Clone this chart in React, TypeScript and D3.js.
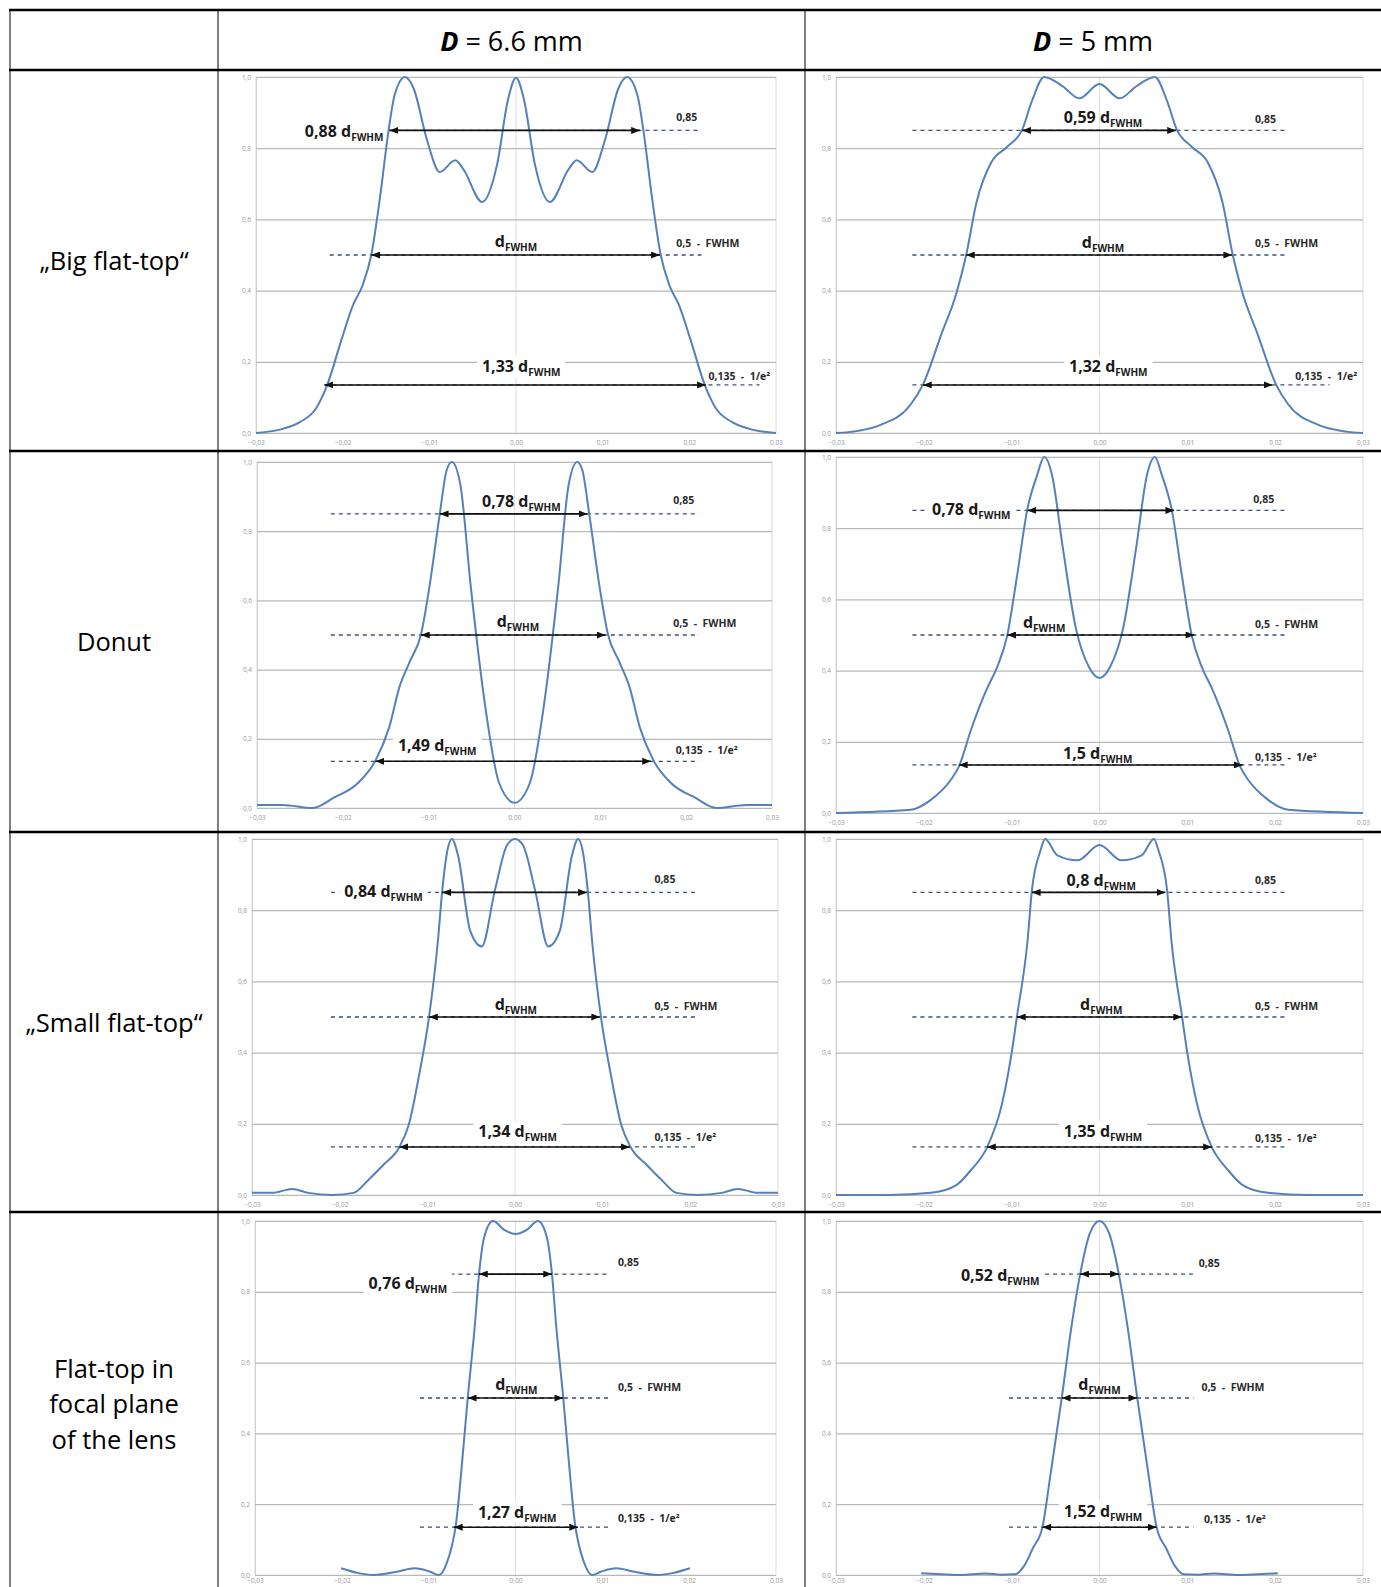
import React, { useEffect, useRef } from "react";
import * as d3 from "d3";

const W = 1381;
const H = 1587;

const headers = ["6.6 mm", "5 mm"];
const rowLabels = [["„Big flat-top“"], ["Donut"], ["„Small flat-top“"], ["Flat-top in", "focal plane", "of the lens"]];
const yTicks = [0, 0.2, 0.4, 0.6, 0.8, 1.0];
const xTicks = [-0.03, -0.02, -0.01, 0, 0.01, 0.02, 0.03];
const levels = [0.85, 0.5, 0.135];
const levelNames = ["0,85", "0,5\u00a0\u00a0-\u00a0\u00a0FWHM", "0,135\u00a0\u00a0-\u00a0\u00a01/e²"];

// intensity profiles: [x (m), relative intensity]
const bigFlat66 = [
  [-0.03, 0], [-0.0275, 0.008], [-0.0249, 0.031], [-0.0231, 0.068], [-0.0218, 0.134], [-0.0201, 0.265],
  [-0.0188, 0.36], [-0.0177, 0.415], [-0.0167, 0.5], [-0.0157, 0.66], [-0.0147, 0.85], [-0.014, 0.95],
  [-0.0128, 1.0], [-0.0118, 0.967], [-0.0103, 0.826], [-0.0088, 0.733], [-0.007, 0.766], [-0.0061, 0.742],
  [-0.0039, 0.649], [-0.0022, 0.752], [-0.0009, 0.939], [0, 0.998], [0.0009, 0.939], [0.0022, 0.752],
  [0.0039, 0.649], [0.0061, 0.742], [0.007, 0.766], [0.0088, 0.733], [0.0103, 0.826], [0.0118, 0.967],
  [0.0128, 1.0], [0.014, 0.95], [0.0147, 0.85], [0.0157, 0.66], [0.0167, 0.5], [0.0177, 0.415],
  [0.0188, 0.36], [0.0201, 0.265], [0.0218, 0.134], [0.0231, 0.068], [0.0249, 0.031], [0.0275, 0.008], [0.03, 0],
];
const bigFlat5 = [
  [-0.03, 0], [-0.0275, 0.006], [-0.0249, 0.023], [-0.0215, 0.08], [-0.0201, 0.136], [-0.018, 0.278],
  [-0.0163, 0.392], [-0.0152, 0.497], [-0.014, 0.648], [-0.0123, 0.761], [-0.0105, 0.804], [-0.0088, 0.852],
  [-0.0077, 0.932], [-0.0063, 1.0], [-0.0042, 0.974], [-0.0023, 0.94], [0, 0.98], [0.0023, 0.94],
  [0.0042, 0.974], [0.0063, 1.0], [0.0077, 0.932], [0.0088, 0.852], [0.0105, 0.804], [0.0123, 0.761],
  [0.014, 0.648], [0.0152, 0.497], [0.0163, 0.392], [0.018, 0.278], [0.0201, 0.136], [0.0215, 0.08],
  [0.0249, 0.023], [0.0275, 0.006], [0.03, 0],
];
const donut66 = [
  [-0.03, 0.009], [-0.027, 0.009], [-0.0235, 0], [-0.0211, 0.029], [-0.0182, 0.073], [-0.0162, 0.137],
  [-0.0146, 0.233], [-0.0134, 0.35], [-0.0122, 0.423], [-0.0109, 0.501], [-0.0099, 0.641], [-0.0087, 0.851],
  [-0.0079, 0.977], [-0.0073, 1.0], [-0.0063, 0.933], [-0.0051, 0.641], [-0.0034, 0.292], [-0.0018, 0.073],
  [0, 0.015], [0.0018, 0.073], [0.0034, 0.292], [0.0051, 0.641], [0.0063, 0.933], [0.0073, 1.0],
  [0.0079, 0.977], [0.0087, 0.851], [0.0099, 0.641], [0.0109, 0.501], [0.0122, 0.423], [0.0134, 0.35],
  [0.0146, 0.233], [0.0162, 0.137], [0.0182, 0.073], [0.0211, 0.029], [0.0235, 0], [0.027, 0.009], [0.03, 0.009],
];
const donut5 = [
  [-0.03, 0], [-0.0215, 0.009], [-0.0192, 0.037], [-0.0169, 0.094], [-0.016, 0.131], [-0.0146, 0.236],
  [-0.0128, 0.35], [-0.0117, 0.407], [-0.0105, 0.499], [-0.0094, 0.664], [-0.0082, 0.855], [-0.0071, 0.949],
  [-0.0063, 1.0], [-0.0054, 0.949], [-0.0042, 0.749], [-0.0027, 0.52], [-0.0012, 0.41], [0, 0.379],
  [0.0012, 0.41], [0.0027, 0.52], [0.0042, 0.749], [0.0054, 0.949], [0.0063, 1.0], [0.0071, 0.949],
  [0.0082, 0.855], [0.0094, 0.664], [0.0105, 0.499], [0.0117, 0.407], [0.0128, 0.35], [0.0146, 0.236],
  [0.016, 0.131], [0.0169, 0.094], [0.0192, 0.037], [0.0215, 0.009], [0.03, 0],
];
const smallFlat66 = [
  [-0.03, 0.006], [-0.0277, 0.006], [-0.0254, 0.017], [-0.0236, 0.006], [-0.0208, 0], [-0.0184, 0.006],
  [-0.0167, 0.043], [-0.015, 0.085], [-0.0132, 0.134], [-0.0121, 0.199], [-0.0109, 0.342], [-0.0098, 0.501],
  [-0.0088, 0.712], [-0.0083, 0.855], [-0.0077, 0.969], [-0.0072, 1.0], [-0.0065, 0.954], [-0.0051, 0.741],
  [-0.0038, 0.698], [-0.0023, 0.855], [-0.0009, 0.983], [0, 1.0], [0.0009, 0.983], [0.0023, 0.855],
  [0.0038, 0.698], [0.0051, 0.741], [0.0065, 0.954], [0.0072, 1.0], [0.0077, 0.969], [0.0083, 0.855],
  [0.0088, 0.712], [0.0098, 0.501], [0.0109, 0.342], [0.0121, 0.199], [0.0132, 0.134], [0.015, 0.085],
  [0.0167, 0.043], [0.0184, 0.006], [0.0208, 0], [0.0236, 0.006], [0.0254, 0.017], [0.0277, 0.006], [0.03, 0.006],
];
const smallFlat5 = [
  [-0.03, 0], [-0.0238, 0], [-0.0192, 0.006], [-0.0163, 0.028], [-0.0146, 0.071], [-0.0128, 0.134],
  [-0.0111, 0.256], [-0.01, 0.399], [-0.0094, 0.501], [-0.0082, 0.712], [-0.0077, 0.855], [-0.0067, 0.969],
  [-0.0062, 1.0], [-0.0048, 0.954], [-0.0025, 0.94], [0, 0.983], [0.0025, 0.94], [0.0048, 0.954],
  [0.0062, 1.0], [0.0067, 0.969], [0.0077, 0.855], [0.0082, 0.712], [0.0094, 0.501], [0.01, 0.399],
  [0.0111, 0.256], [0.0128, 0.134], [0.0146, 0.071], [0.0163, 0.028], [0.0192, 0.006], [0.0238, 0], [0.03, 0],
];
const focal66 = [
  [-0.0201, 0.019], [-0.0182, 0.006], [-0.0163, 0], [-0.0137, 0.009], [-0.0116, 0.019], [-0.0099, 0.01],
  [-0.0088, 0], [-0.0079, 0.035], [-0.0073, 0.085], [-0.0069, 0.136], [-0.006, 0.36], [-0.0055, 0.5],
  [-0.0047, 0.7], [-0.0042, 0.85], [-0.0036, 0.955], [-0.0026, 1.0], [-0.0013, 0.975], [0, 0.963],
  [0.0013, 0.975], [0.0026, 1.0], [0.0036, 0.955], [0.0042, 0.85], [0.0047, 0.7], [0.0055, 0.5],
  [0.006, 0.36], [0.0069, 0.136], [0.0073, 0.085], [0.0079, 0.035], [0.0088, 0], [0.0099, 0.01],
  [0.0116, 0.019], [0.0137, 0.009], [0.0163, 0], [0.0182, 0.006], [0.0201, 0.019],
];
const focal5 = [
  [-0.0203, 0.005], [-0.018, 0.002], [-0.0158, 0], [-0.013, 0.004], [-0.0112, 0.001], [-0.0096, 0.002],
  [-0.0086, 0.025], [-0.0076, 0.075], [-0.0065, 0.135], [-0.0056, 0.28], [-0.0043, 0.5], [-0.0032, 0.7],
  [-0.0022, 0.85], [-0.0011, 0.965], [0, 1.0], [0.0011, 0.965], [0.0022, 0.85], [0.0032, 0.7],
  [0.0043, 0.5], [0.0056, 0.28], [0.0065, 0.135], [0.0076, 0.075], [0.0086, 0.025], [0.0096, 0.002],
  [0.0112, 0.001], [0.013, 0.004], [0.0158, 0], [0.018, 0.002], [0.0203, 0.005],
];

// arrow ends at the 0.85 / 0.5 / 0.135 levels
const arrowsBigFlat66 = [[-0.0146, 0.0143], [-0.0167, 0.0166], [-0.0221, 0.0219]];
const arrowsBigFlat5 = [[-0.0088, 0.0087], [-0.0152, 0.0151], [-0.0201, 0.0197]];
const arrowsDonut66 = [[-0.0087, 0.0085], [-0.0109, 0.0106], [-0.0162, 0.0159]];
const arrowsDonut5 = [[-0.0082, 0.0085], [-0.0105, 0.0108], [-0.016, 0.0163]];
const arrowsSmallFlat66 = [[-0.0083, 0.0082], [-0.0098, 0.0097], [-0.0132, 0.0131]];
const arrowsSmallFlat5 = [[-0.0077, 0.0075], [-0.0094, 0.0094], [-0.0128, 0.0128]];
const arrowsFocal66 = [[-0.0042, 0.0042], [-0.0055, 0.0055], [-0.0071, 0.0072]];
const arrowsFocal5 = [[-0.0022, 0.0022], [-0.0043, 0.0043], [-0.0065, 0.0065]];

// widths in units of d_FWHM
const ratiosBigFlat66 = ["0,88", "", "1,33"];
const ratiosBigFlat5 = ["0,59", "", "1,32"];
const ratiosDonut66 = ["0,78", "", "1,49"];
const ratiosDonut5 = ["0,78", "", "1,5"];
const ratiosSmallFlat66 = ["0,84", "", "1,34"];
const ratiosSmallFlat5 = ["0,8", "", "1,35"];
const ratiosFocal66 = ["0,76", "", "1,27"];
const ratiosFocal5 = ["0,52", "", "1,52"];

// layout of the eight panels (pixel boxes, dashed extents, label anchors in data units)
const panels = [
  {
    curve: bigFlat66, arrows: arrowsBigFlat66, ratios: ratiosBigFlat66, box: [256, 776, 77, 433],
    dashes: [[-0.0146, 0.0214], [-0.0215, 0.0214], [-0.0221, 0.0281]],
    labels: [[-0.0153, 0.832, "end", false], [0, 0.523, "middle", false], [0.0006, 0.17, "middle", true]],
    names: [[0.0185, 0.876], [0.0185, 0.523], [0.0222, 0.148]],
  },
  {
    curve: bigFlat5, arrows: arrowsBigFlat5, ratios: ratiosBigFlat5, box: [836, 1363, 77, 433],
    dashes: [[-0.0213, 0.0214], [-0.0213, 0.0214], [-0.0213, 0.0262]],
    labels: [[0.0004, 0.87, "middle", false], [0.0004, 0.52, "middle", false], [0.001, 0.17, "middle", true]],
    names: [[0.0177, 0.872], [0.0177, 0.523], [0.0223, 0.148]],
  },
  {
    curve: donut66, arrows: arrowsDonut66, ratios: ratiosDonut66, box: [257, 772, 462, 808],
    dashes: [[-0.0214, 0.0215], [-0.0214, 0.0215], [-0.0214, 0.0215]],
    labels: [[0.0008, 0.869, "middle", false], [0.0004, 0.522, "middle", false], [-0.009, 0.166, "middle", true]],
    names: [[0.0185, 0.878], [0.0185, 0.522], [0.0188, 0.155]],
  },
  {
    curve: donut5, arrows: arrowsDonut5, ratios: ratiosDonut5, box: [836, 1363, 457, 813],
    dashes: [[-0.0213, 0.0214], [-0.0213, 0.0214], [-0.0213, 0.0214]],
    labels: [[-0.0146, 0.836, "middle", true], [-0.0063, 0.521, "middle", false], [-0.0002, 0.153, "middle", false]],
    names: [[0.0175, 0.872], [0.0177, 0.521], [0.0177, 0.145]],
  },
  {
    curve: smallFlat66, arrows: arrowsSmallFlat66, ratios: ratiosSmallFlat66, box: [252, 778, 839, 1195],
    dashes: [[-0.021, 0.0209], [-0.021, 0.0209], [-0.021, 0.0209]],
    labels: [[-0.015, 0.836, "middle", true], [0.0001, 0.521, "middle", false], [0.0003, 0.162, "middle", true]],
    names: [[0.0159, 0.877], [0.0159, 0.521], [0.0159, 0.151]],
  },
  {
    curve: smallFlat5, arrows: arrowsSmallFlat5, ratios: ratiosSmallFlat5, box: [836, 1363, 839, 1195],
    dashes: [[-0.0213, 0.0214], [-0.0213, 0.0214], [-0.0213, 0.0214]],
    labels: [[0.0002, 0.869, "middle", false], [0.0002, 0.521, "middle", false], [0.0004, 0.162, "middle", true]],
    names: [[0.0177, 0.875], [0.0177, 0.521], [0.0177, 0.148]],
  },
  {
    curve: focal66, arrows: arrowsFocal66, ratios: ratiosFocal66, box: [255, 776, 1221, 1575],
    dashes: [[-0.0075, 0.0109], [-0.011, 0.0109], [-0.011, 0.0109]],
    labels: [[-0.0124, 0.809, "middle", true], [0.0001, 0.523, "middle", false], [0.0002, 0.162, "middle", true]],
    names: [[0.0118, 0.874], [0.0118, 0.52], [0.0118, 0.149]],
  },
  {
    curve: focal5, arrows: arrowsFocal5, ratios: ratiosFocal5, box: [836, 1363, 1221, 1575],
    dashes: [[-0.0062, 0.0107], [-0.0103, 0.0107], [-0.0103, 0.0107]],
    labels: [[-0.0113, 0.831, "middle", true], [0, 0.523, "middle", false], [0.0004, 0.163, "middle", true]],
    names: [[0.0113, 0.869], [0.0116, 0.52], [0.0119, 0.146]],
  },
];

const FONT = "'Open Sans', sans-serif";
const comma = (f) => (v) => f(v).replace(".", ",");

export default function App() {
  const svgRef = useRef<SVGSVGElement>(null);

  useEffect(() => {
    const svg = d3.select(svgRef.current);
    svg.selectAll("*").remove();

    svg.append("defs").append("marker")
      .attr("id", "arrowHead")
      .attr("viewBox", "0 0 10 8")
      .attr("refX", 10)
      .attr("refY", 4)
      .attr("markerWidth", 9)
      .attr("markerHeight", 7)
      .attr("markerUnits", "userSpaceOnUse")
      .attr("orient", "auto-start-reverse")
      .append("path")
      .attr("d", "M0,0L10,4L0,8Z")
      .attr("fill", "#111");

    svg.append("rect").attr("width", W).attr("height", H).attr("fill", "#fff");

    panels.forEach((p) => {
      const [x0, x1, y0, y1] = p.box;
      const x = d3.scaleLinear().domain([-0.03, 0.03]).range([x0, x1]);
      const y = d3.scaleLinear().domain([0, 1]).range([y1, y0]);
      const g = svg.append("g").attr("font-family", FONT);

      // frame and gridlines
      g.append("rect")
        .attr("x", x0).attr("y", y0).attr("width", x1 - x0).attr("height", y1 - y0)
        .attr("fill", "#fff").attr("stroke", "#dcdcdc").attr("stroke-width", 1);

      g.append("line")
        .attr("x1", x(0)).attr("x2", x(0)).attr("y1", y0).attr("y2", y1)
        .attr("stroke", "#dedede").attr("stroke-width", 1);

      const yAxis = g.append("g")
        .attr("transform", `translate(${x0},0)`)
        .call(d3.axisLeft(y).tickValues(yTicks).tickSize(-(x1 - x0)).tickPadding(5).tickFormat(comma(d3.format(".1f"))));
      yAxis.select(".domain").attr("stroke", "#d0d0d0");
      yAxis.selectAll(".tick line").attr("stroke", "#b8b8b8").attr("stroke-width", 1.2);
      yAxis.selectAll(".tick text").attr("fill", "#999").attr("font-size", 6.5).attr("font-family", FONT);

      const xAxis = g.append("g")
        .attr("transform", `translate(0,${y1})`)
        .call(d3.axisBottom(x).tickValues(xTicks).tickSize(0).tickPadding(Math.min(7, H - y1 - 9)).tickFormat(comma(d3.format(".2f"))));
      xAxis.select(".domain").remove();
      xAxis.selectAll(".tick text").attr("fill", "#999").attr("font-size", 6.5).attr("font-family", FONT);

      // dashed level lines
      levels.forEach((lv, i) => {
        g.append("line")
          .attr("x1", x(p.dashes[i][0])).attr("x2", x(p.dashes[i][1]))
          .attr("y1", y(lv)).attr("y2", y(lv))
          .attr("stroke", "#3d4f78").attr("stroke-width", 1.3).attr("stroke-dasharray", "4 4");
      });

      const bgLayer = g.append("g");

      // profile
      g.append("path")
        .datum(p.curve)
        .attr("fill", "none")
        .attr("stroke", "#5580bb")
        .attr("stroke-width", 2)
        .attr("d", d3.line().x((d) => x(d[0])).y((d) => y(d[1])).curve(d3.curveMonotoneX));

      // arrows
      levels.forEach((lv, i) => {
        g.append("line")
          .attr("x1", x(p.arrows[i][0])).attr("x2", x(p.arrows[i][1]))
          .attr("y1", y(lv)).attr("y2", y(lv))
          .attr("stroke", "#111").attr("stroke-width", 1.6)
          .attr("marker-start", "url(#arrowHead)")
          .attr("marker-end", "url(#arrowHead)");
      });

      // width labels
      levels.forEach((lv, i) => {
        const [lx, ly, anchor, bg] = p.labels[i];
        const t = g.append("text")
          .attr("x", x(lx)).attr("y", y(ly))
          .attr("text-anchor", anchor)
          .attr("font-weight", 700)
          .attr("font-size", 16)
          .attr("fill", "#1a1a1a");
        t.append("tspan").text((p.ratios[i] ? p.ratios[i] + " " : "") + "d");
        t.append("tspan").attr("font-size", 10).attr("dy", 4).text("FWHM");
        if (bg) {
          const b = (t.node() as SVGTextElement).getBBox();
          bgLayer.append("rect")
            .attr("x", b.x - 5).attr("y", b.y + 1).attr("width", b.width + 10).attr("height", b.height - 3)
            .attr("fill", "#fff");
        }

        const [nx, ny] = p.names[i];
        g.append("text")
          .attr("x", x(nx)).attr("y", y(ny))
          .attr("font-weight", 700)
          .attr("font-size", 10.5)
          .attr("fill", "#2a2a2a")
          .text(levelNames[i]);
      });
    });

    // table rules
    const table = svg.append("g");
    [10, 218, 805].forEach((vx) => {
      table.append("line").attr("x1", vx).attr("x2", vx).attr("y1", 10).attr("y2", H)
        .attr("stroke", "#4a4a4a").attr("stroke-width", 1.4);
    });
    [10, 70, 451, 832, 1212].forEach((hy) => {
      table.append("line").attr("x1", 9).attr("x2", W).attr("y1", hy).attr("y2", hy)
        .attr("stroke", "#000").attr("stroke-width", 2.4);
    });

    // column headers
    [511.5, 1093].forEach((cx, i) => {
      const t = table.append("text")
        .attr("x", cx).attr("y", 51)
        .attr("text-anchor", "middle")
        .attr("font-family", FONT)
        .attr("font-size", 27)
        .attr("fill", "#000");
      t.append("tspan").attr("font-weight", 700).attr("font-style", "italic").text("D");
      t.append("tspan").text(" = " + headers[i]);
    });

    // row labels
    const rowCenters = [261, 642, 1023, 1404];
    rowLabels.forEach((lines, r) => {
      const t = table.append("text")
        .attr("x", 114)
        .attr("text-anchor", "middle")
        .attr("font-family", FONT)
        .attr("font-size", 25.5)
        .attr("fill", "#000");
      lines.forEach((ln, k) => {
        t.append("tspan")
          .attr("x", 114)
          .attr("y", rowCenters[r] + 9 + (k - (lines.length - 1) / 2) * 35.5)
          .text(ln);
      });
    });
  }, []);

  return (
    <div style={{ position: "absolute", left: 0, top: 0 }}>
      <svg ref={svgRef} width={W} height={H} style={{ display: "block" }} />
    </div>
  );
}
